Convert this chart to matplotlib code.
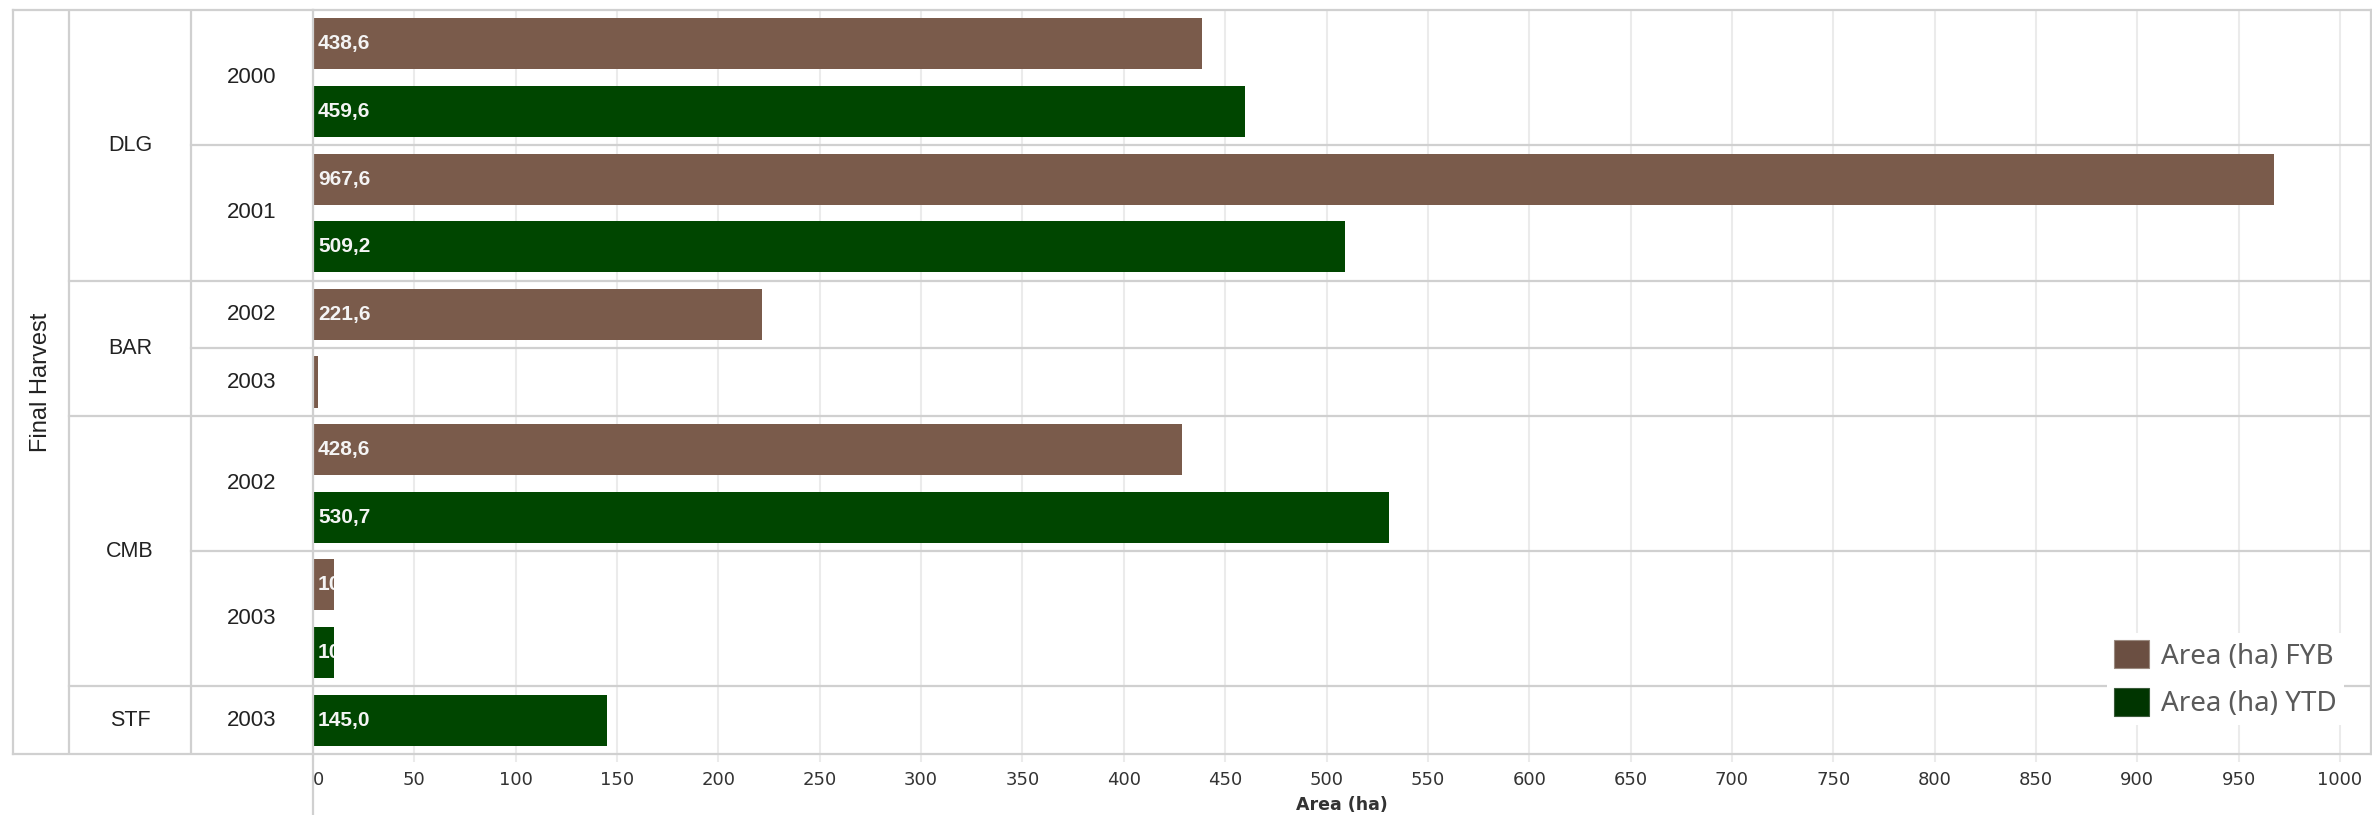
import matplotlib
matplotlib.use('Agg')
import matplotlib.pyplot as plt
from matplotlib.patches import Patch
from matplotlib.lines import Line2D
from matplotlib.transforms import ScaledTranslation

# ---------------- data ----------------
groups = ['DLG', 'DLG', 'BAR', 'BAR', 'CMB', 'CMB', 'STF']
years = ['2000', '2001', '2002', '2003', '2002', '2003', '2003']
area_fyb = [438.6, 967.6, 221.6, 2.5, 428.6, 10.2, None]
area_ytd = [459.6, 509.2, None, None, 530.7, 10.2, 145.0]
series_names = ['Area (ha) FYB', 'Area (ha) YTD']
header_title = 'Final Harvest'
x_title = 'Area (ha)'
x_ticks = list(range(0, 1001, 50))

# ---------------- style ----------------
bar_colors = ['#7a5b4b', '#004600']
legend_colors = ['#6b4f42', '#003500']
line_col = '#d0d0d0'
grid_col = '#ebebeb'
hdr_font = 'Liberation Sans'
axis_font = 'DejaVu Sans'

W, H = 2372, 815
fig = plt.figure(figsize=(W / 100, H / 100), dpi=100)
fig.patch.set_facecolor('white')


def fx(px):
    return px / W


def fy(py):
    return 1 - py / H


L, R, T, B = 313, 2371, 10, 754
HL = 13
ax = fig.add_axes([fx(L), fy(B), fx(R) - fx(L), fy(T) - fy(B)])
hx = fig.add_axes([fx(HL), fy(B), fx(L) - fx(HL), fy(T) - fy(B)])

# ---------------- slots ----------------
pos = 0
row_bounds = []
bars = []
for g, yr, a, b in zip(groups, years, area_fyb, area_ytd):
    start = pos
    for si, v in enumerate((a, b)):
        if v is None:
            continue
        bars.append((si, v, pos + 0.5))
        pos += 1
    row_bounds.append((start, pos))
n = pos

x_per_px = 1000 / (2340 - 313)
xmax = (R - L) * x_per_px

# bars + clipped labels
offset = ScaledTranslation(5 / 100, 0, fig.dpi_scale_trans)
for si, v, yc in bars:
    cont = ax.barh(yc, v, height=0.755, color=bar_colors[si], zorder=3)
    rect = cont.patches[0]
    t = ax.text(0, yc, f'{v:.1f}'.replace('.', ','), transform=ax.transData + offset,
                ha='left', va='center', color='#f4f4f4', fontsize=15,
                fontweight='bold', family=hdr_font, zorder=4, clip_on=True)
    t.set_clip_path(rect)

ax.set_xlim(0, xmax)
ax.set_ylim(n, 0)
ax.set_yticks([])
ax.set_xticks(x_ticks)
ax.set_xticklabels([str(v) for v in x_ticks], fontsize=13, color='#333333',
                   family=axis_font)
ax.get_xticklabels()[0].set_ha('left')
ax.tick_params(axis='x', length=6, width=1.5, color=grid_col, pad=6)
ax.grid(axis='x', color=grid_col, lw=1.5, zorder=0)
ax.set_axisbelow(True)
ax.set_xlabel(x_title, fontsize=12.5, fontweight='bold', color='#333333',
              family=axis_font, labelpad=5)
for s in ['top', 'right', 'bottom']:
    ax.spines[s].set_color(line_col)
    ax.spines[s].set_linewidth(1.6)
ax.spines['left'].set_visible(False)

# row separators in plot area
for (s0, s1) in row_bounds[:-1]:
    ax.axhline(s1, color=line_col, lw=1.6, zorder=2)

# long left axis line reaching bottom of figure
fig.add_artist(Line2D([fx(L), fx(L)], [0, fy(T)], transform=fig.transFigure,
                      color=line_col, lw=1.6))

# ---------------- header table ----------------
hx.set_xlim(0, L - HL)
hx.set_ylim(n, 0)
hx.set_xticks([])
hx.set_yticks([])
for s in hx.spines.values():
    s.set_color(line_col)
    s.set_linewidth(1.6)
hx.spines['right'].set_visible(False)

c1 = 69 - HL
c2 = 191 - HL
hx.axvline(c1, color=line_col, lw=1.6)
hx.axvline(c2, color=line_col, lw=1.6)

hx.text(41 - HL, n / 2, header_title, rotation=90, ha='center', va='center',
        fontsize=17, family=hdr_font, color='#222222')

# group spans
gi = 0
while gi < len(groups):
    gj = gi
    while gj + 1 < len(groups) and groups[gj + 1] == groups[gi]:
        gj += 1
    g0 = row_bounds[gi][0]
    g1 = row_bounds[gj][1]
    hx.text((c1 + c2) / 2, (g0 + g1) / 2, groups[gi], ha='center', va='center',
            fontsize=15.5, family=hdr_font, color='#222222')
    if g1 < n:
        hx.plot([c1, L - HL], [g1, g1], color=line_col, lw=1.6)
    for k in range(gi, gj + 1):
        r0, r1 = row_bounds[k]
        hx.text((c2 + L - HL) / 2, (r0 + r1) / 2, years[k], ha='center', va='center',
                fontsize=16, family=hdr_font, color='#222222')
        if k < gj:
            hx.plot([c2, L - HL], [r1, r1], color=line_col, lw=1.6)
    gi = gj + 1

# ---------------- legend ----------------
handles = [Patch(facecolor=legend_colors[i], edgecolor='#9a8a80' if i == 0 else '#3a5a3a',
                 lw=0.8) for i in range(2)]
leg = fig.legend(handles, series_names, loc='upper left',
                 bbox_to_anchor=(fx(2107), fy(633)), frameon=True, fancybox=False,
                 facecolor='white', edgecolor='none', framealpha=1,
                 prop={'family': 'Noto Sans', 'size': 20}, labelcolor='#5a5a5a',
                 handlelength=1.25, handleheight=1.2, handletextpad=0.45,
                 labelspacing=0.62, borderpad=0.25, borderaxespad=0)

fig.savefig('out.png', dpi=100, facecolor='white')
